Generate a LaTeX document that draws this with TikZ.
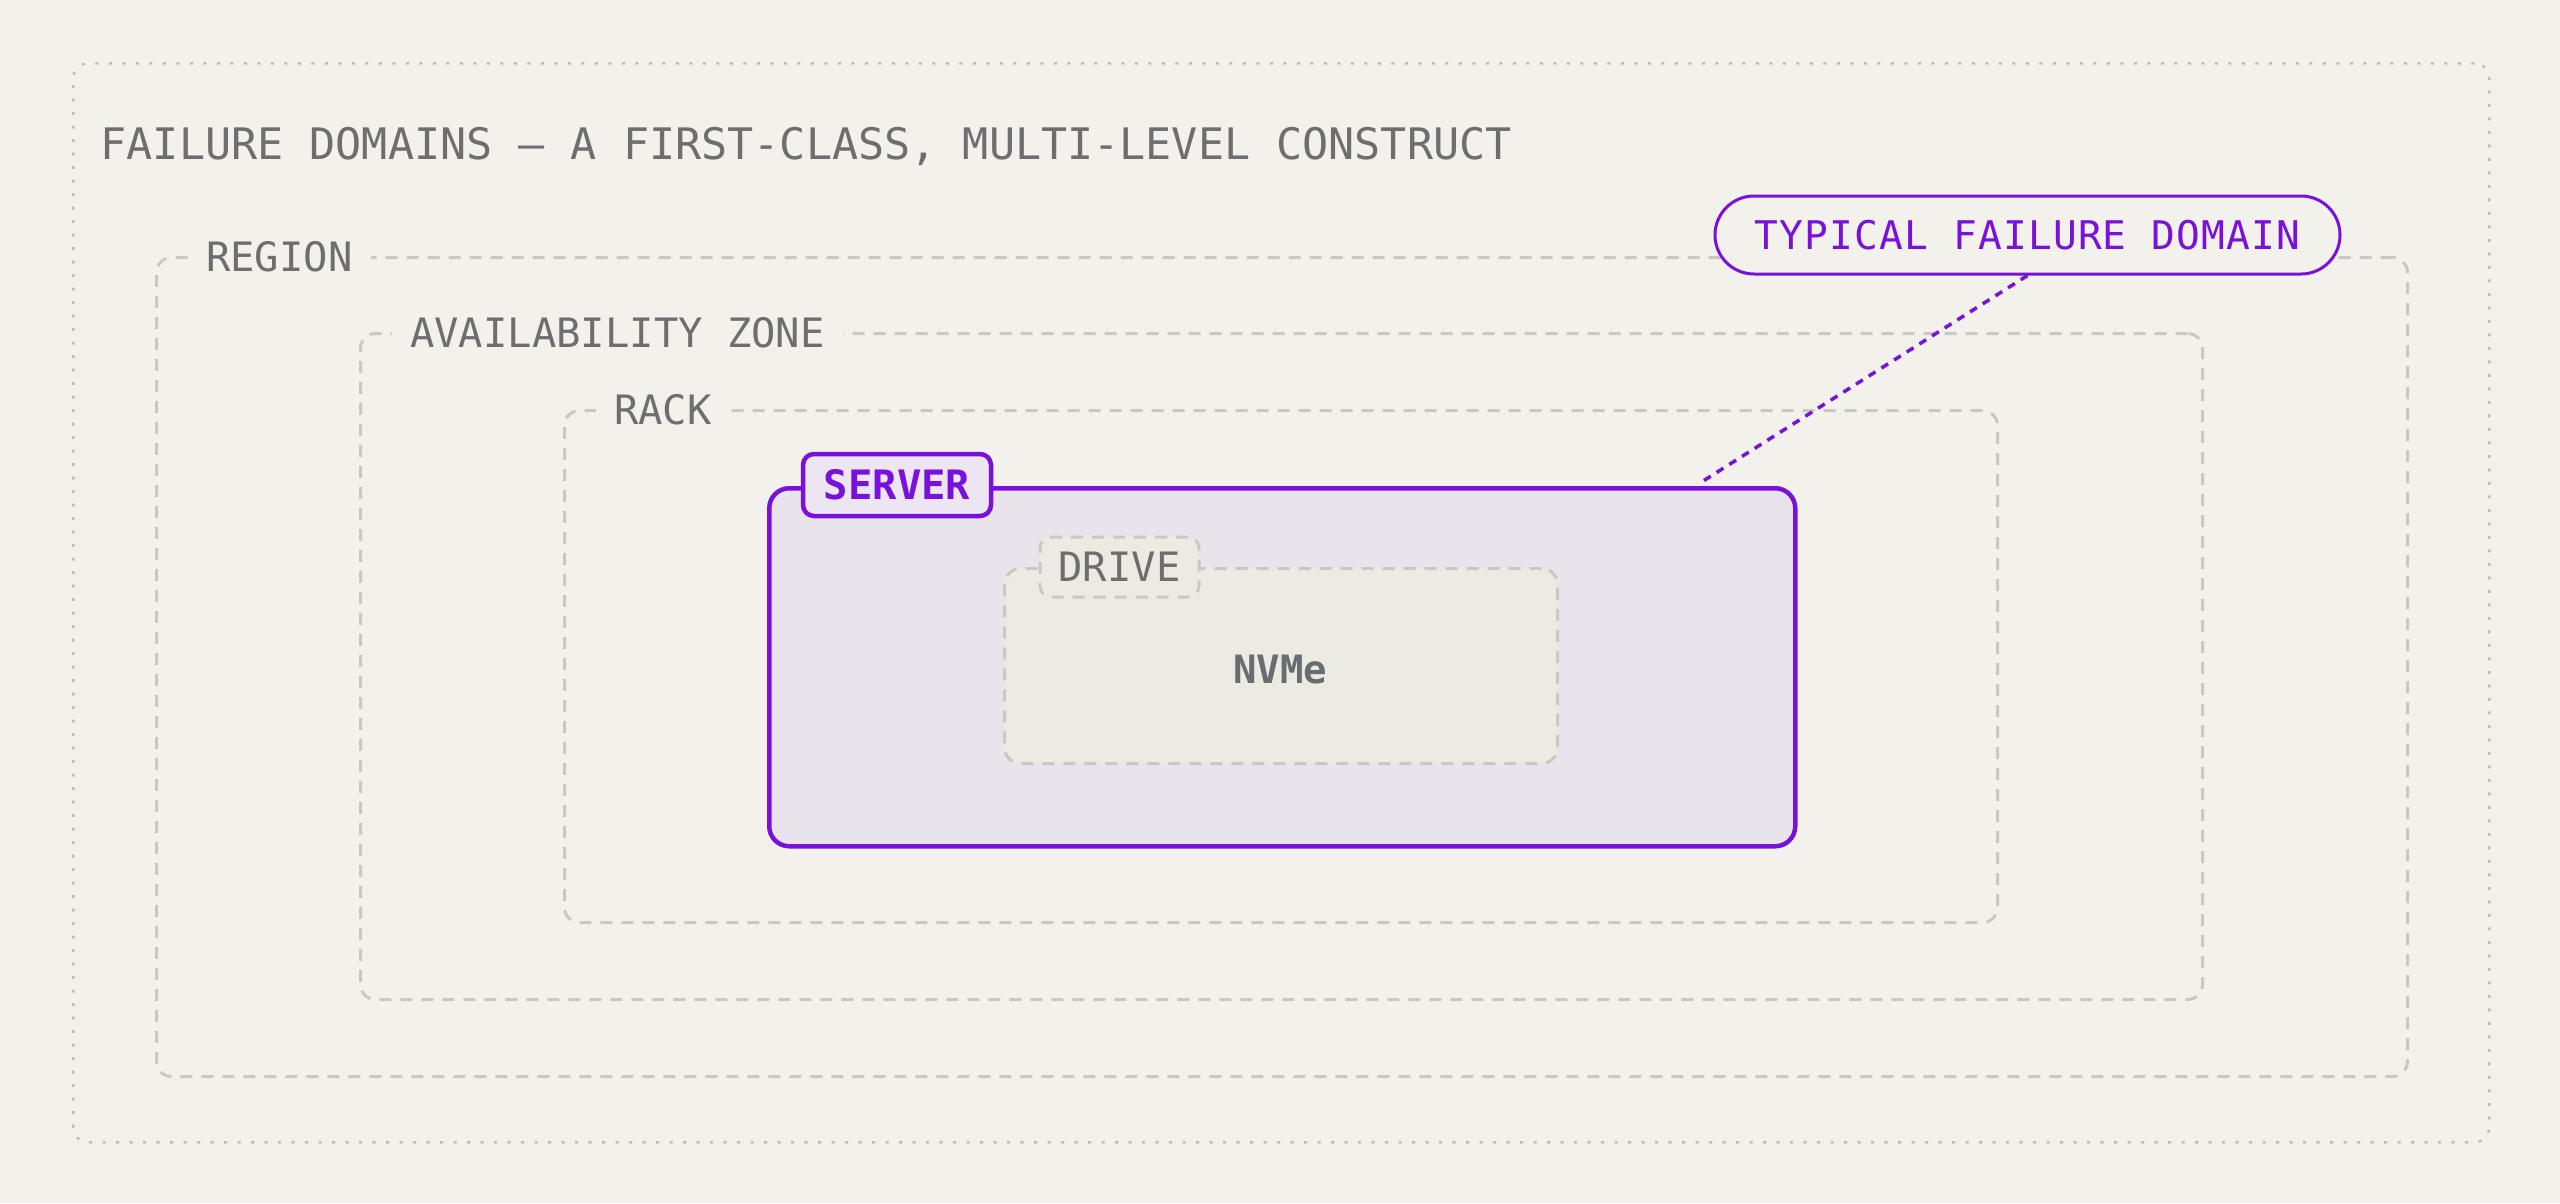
\documentclass[tikz,border=0pt]{standalone}
\usepackage{fontspec}
\newfontfamily\monof{DejaVu Sans Mono}
\newfontfamily\monotrack[LetterSpace=3]{DejaVu Sans Mono}
\definecolor{bgc}{HTML}{F2F1EC}
\definecolor{txtgray}{HTML}{6E6E6E}
\definecolor{linegray}{HTML}{C9C8C3}
\definecolor{dotgray}{HTML}{BEBDB8}
\definecolor{purp}{HTML}{7A10DC}
\definecolor{serverfill}{HTML}{E9E4EC}
\definecolor{tabfill}{HTML}{EBE6F1}
\definecolor{drivefill}{HTML}{EBEAE3}
\definecolor{nvmegray}{HTML}{6A6D70}
\tikzset{
  box/.style={draw=linegray, line width=3pt, dash pattern=on 12pt off 9pt, rounded corners=15pt,
    rectangle, inner sep=0pt, anchor=north west},
  outerbox/.style={draw=dotgray, line width=2.5pt, dash pattern=on 3pt off 10.5pt, rounded corners=15pt,
    rectangle, inner sep=0pt, anchor=north west},
  lbl/.style={fill=bgc, text=txtgray, inner xsep=18pt, inner ysep=4pt, anchor=west,
    font=\monof\fontsize{40.5}{48}\selectfont},
  serverbox/.style={draw=purp, line width=4.5pt, fill=serverfill, rounded corners=20pt,
    rectangle, inner sep=0pt, anchor=north west},
  drivebox/.style={draw=linegray, line width=3pt, dash pattern=on 12pt off 9pt, fill=drivefill,
    rounded corners=16pt, rectangle, inner sep=0pt, anchor=north west},
  servertab/.style={draw=purp, line width=4.5pt, fill=tabfill, rounded corners=11pt, inner sep=0pt,
    minimum width=188pt, minimum height=62pt, text=purp,
    font=\monof\bfseries\fontsize{40.5}{48}\selectfont},
  drivetab/.style={draw=linegray, line width=3pt, dash pattern=on 12pt off 9pt, fill=drivefill,
    rounded corners=11pt, inner sep=0pt, minimum width=159pt, minimum height=60pt, text=txtgray,
    font=\monof\fontsize{40.5}{48}\selectfont},
  pill/.style={draw=purp, line width=3pt, fill=bgc, rounded corners=39pt, inner sep=0pt,
    minimum width=625pt, minimum height=78pt, text=purp,
    font=\monotrack\fontsize{39.5}{46}\selectfont},
  conn/.style={draw=purp, line width=3.5pt, dash pattern=on 8pt off 7pt},
}
\begin{document}
\begin{tikzpicture}[x=1pt,y=-1pt]
\useasboundingbox[fill=bgc] (0,0) rectangle (2560,1203);
% containers
\node[outerbox, minimum width=2416pt, minimum height=1079pt] (outer) at (72,62) {};
\node[box, minimum width=2251pt, minimum height=819pt] (region) at (155,256) {};
\node[box, minimum width=1842pt, minimum height=666pt] (az) at (359,332) {};
\node[box, minimum width=1433pt, minimum height=512pt] (rack) at (563,409) {};
\node[serverbox, minimum width=1026pt, minimum height=358pt] (server) at (767,486) {};
\node[drivebox, minimum width=553pt, minimum height=195pt] (drive) at (1003,567) {};
% title
\node[anchor=base west, inner sep=0pt, text=txtgray, font=\monof\fontsize{43.4}{52}\selectfont]
  (title) at (100.5,159) {FAILURE DOMAINS — A FIRST-CLASS, MULTI-LEVEL CONSTRUCT};
% labels
\node[lbl] (regionlbl) at (188,257) {REGION};
\node[lbl] (azlbl) at (392,333) {AVAILABILITY ZONE};
\node[lbl] (racklbl) at (596,410) {RACK};
\node[servertab] (srvtab) at (897,485) {SERVER};
\node[drivetab] (drvtab) at (1119.5,567) {\raisebox{-1pt}{DRIVE}};
\node[text=nvmegray, inner sep=0pt, font=\monof\bfseries\fontsize{39}{46}\selectfont]
  (nvme) at (1280,669.5) {NVMe};
% callout
\node[pill] (callout) at (2027.5,235) {\raisebox{-3pt}{TYPICAL FAILURE DOMAIN}};
\coordinate (tip) at (1700,483);
\draw[conn] (callout.south) -- (tip);
\end{tikzpicture}
\end{document}
